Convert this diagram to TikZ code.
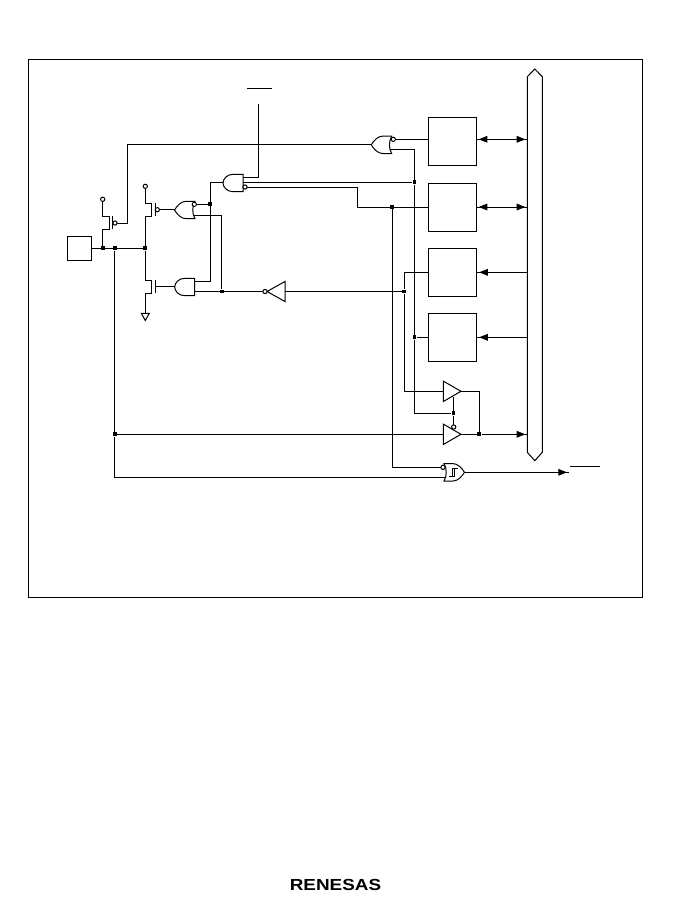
\documentclass[tikz,border=0pt]{standalone}
\usepackage{fontspec}
\setmainfont{Liberation Sans}
\usetikzlibrary{arrows.meta}
\tikzset{
  box/.style={draw,minimum width=36.2pt,minimum height=36.2pt,inner sep=0pt},
  pad/.style={draw,minimum width=18.2pt,minimum height=18.2pt,inner sep=0pt},
  junction/.style={rectangle,fill=black,inner sep=0pt,minimum size=2.8pt},
  bubble/.style={circle,draw,fill=white,inner sep=0pt,minimum size=3.2pt},
  biarrow/.style={postaction={draw,shorten <=1.5pt,shorten >=1.5pt,{Triangle[length=6.5pt,width=5pt]}-{Triangle[length=6.5pt,width=5pt]}}},
  uniarrow/.style={postaction={draw,shorten >=1.5pt,-{Triangle[length=6.5pt,width=5pt]}}},
  andgate/.pic={\draw[fill=white] (0,-8.7) -- (-10,-8.7) .. controls (-16,-8.7) and (-20,-4) .. (-20,0)
     .. controls (-20,4) and (-16,8.7) .. (-10,8.7) -- (0,8.7) -- cycle;},
  orgate/.pic={\draw[fill=white] (0,-8.7) -- (-9,-8.7) .. controls (-14,-8.7) and (-18,-4) .. (-20.5,0)
     .. controls (-18,4) and (-14,8.7) .. (-9,8.7) -- (0,8.7) .. controls (-3,4) and (-3,-4) .. (0,-8.7) -- cycle;},
  leftbuf/.pic={\draw[fill=white] (0,0) -- (18,-10) -- (18,10) -- cycle;},
  rightbuf/.pic={\draw[fill=white] (0,-10.2) -- (17.7,0) -- (0,10.2) -- cycle;},
}
\begin{document}
\begin{tikzpicture}[x=0.75pt,y=-0.75pt,line width=0.75pt]
\useasboundingbox (0,0) rectangle (679,901);
  % frame
  \draw (28,59) rectangle (642,597);
  % blocks
  \node[pad] (pad) at (79.5,248.3) {};
  \foreach \place/\name in {{(452.5,141.3)/boxa},
                            {(452.5,207.3)/boxb},
                            {(452.5,272.3)/boxc},
                            {(452.5,337.3)/boxd}}
    \node[box] (\name) at \place {};
  % bus
  \draw (527.3,76.7) -- (534.8,69) -- (542.3,76.7) -- (542.3,452.3) -- (534.8,460.7) -- (527.3,452.3) -- cycle;
  % junctions
  \foreach \place/\name in {{(102.7,248.3)/ja},
                            {(114.7,248.3)/jb},
                            {(145.3,248.3)/jc},
                            {(210.3,204.3)/jd},
                            {(221.7,291.5)/je},
                            {(414.5,182.3)/jf},
                            {(392.3,207)/jg},
                            {(404.3,291.5)/jh},
                            {(414.5,337.3)/ji},
                            {(453.5,413.3)/jk},
                            {(479.3,434.3)/jl},
                            {(114.7,434.3)/jm}}
    \node[junction] (\name) at \place {};
  % end points
  \foreach \place/\name in {{(527.3,139.3)/busa},
                            {(527.3,207)/busb},
                            {(527.3,272.3)/busc},
                            {(527.3,337.3)/busd},
                            {(527.3,434.3)/buse},
                            {(428.3,139.3)/boxain},
                            {(476.7,139.3)/boxaout},
                            {(428.3,207)/boxbin},
                            {(476.7,207)/boxbout},
                            {(258.3,104)/clk},
                            {(569,472.3)/outp},
                            {(145.3,313.3)/gnd}}
    \node[coordinate] (\name) at \place {};
  % gates
  \path (391.7,144.8) pic {orgate};
  \path (243,183) pic {andgate};
  \path (195,210) pic {orgate};
  \path (194.7,287) pic {andgate};
  \path (267,291.5) pic {leftbuf};
  \path (443.3,391.3) pic {rightbuf};
  \path (443.3,434.3) pic {rightbuf};
  \path (444,472.3) pic[xscale=-1] {orgate};
  % hysteresis
  \draw (449,476.5) -- (454,476.5) -- (454,468.5) -- (457.5,468.5) (452,476.5) -- (452,468.5) -- (454,468.5);
  % transistors
  \draw (102.7,199.3) -- (102.7,216) -- (109.3,216) -- (109.3,229.3) -- (102.7,229.3) -- (ja);
  \draw (112.3,216) -- (112.3,229.3);
  \draw (145.3,186.3) -- (145.3,203) -- (151.7,203) -- (151.7,216.3) -- (145.3,216.3) -- (jc);
  \draw (155.3,203) -- (155.3,216.3);
  \draw (jc) -- (145.3,280.3) -- (151.7,280.3) -- (151.7,293.3) -- (145.3,293.3) -- (gnd);
  \draw (155.3,280.3) -- (155.3,293.3);
  \draw (141.3,313.3) -- (149.3,313.3) -- (145.3,320.5) -- cycle;
  % wires
  \draw (pad.east) -- (jc);
  \draw (117,223) -- (127.7,223) -- (127.7,144.3) -- (372,144.3);
  \draw (159.5,209.7) -- (174.5,209.7);
  \draw (155.3,286.3) -- (175,286.3);
  \draw (196,204.3) -- (jd);
  \draw (193,215.3) -- (221.7,215.3) -- (je);
  \draw (194.7,281.7) -- (210.3,281.7) -- (210.3,182.7) -- (223.3,182.7);
  \draw (194.7,291.5) -- (266,291.5);
  \draw (285,291.5) -- (jh);
  \draw (243,177.7) -- (258.3,177.7) -- (clk);
  \draw (243,182.3) -- (jf);
  \draw (245,187) -- (357.3,187) -- (357.3,207) -- (boxbin);
  \draw (395.5,139.3) -- (boxain);
  \draw (389.5,149.3) -- (414.5,149.3) -- (jf) -- (ji) -- (414.5,413.3) -- (jk);
  \draw (ji) -- (boxd.west);
  \draw (boxc.west) -- (404.3,272.3) -- (jh) -- (404.3,391.3) -- (443.3,391.3);
  \draw (jg) -- (392.3,467.3) -- (441,467.3);
  \draw (jb) -- (jm) -- (114.7,477.7) -- (446,477.7);
  \draw (jm) -- (443.3,434.3);
  \draw (461,391.3) -- (479.3,391.3) -- (jl);
  \draw (461,434.3) -- (jl);
  \draw (453.5,397) -- (jk) -- (453.5,425);
  % bus links
  \draw[biarrow] (boxaout) -- (busa);
  \draw[biarrow] (boxbout) -- (busb);
  \draw[uniarrow] (busc) -- (boxc.east);
  \draw[uniarrow] (busd) -- (boxd.east);
  \draw[uniarrow] (jl) -- (buse);
  \draw[uniarrow] (465,472.3) -- (outp);
  % inversion bubbles
  \foreach \place/\name in {{(115,223)/ba},
                            {(157.3,209.7)/bb},
                            {(194.3,204.3)/bc},
                            {(245,187)/bd},
                            {(393.3,139.3)/be},
                            {(265,291.5)/bf},
                            {(453.7,427)/bg},
                            {(443,467.3)/bh},
                            {(102.7,199.3)/bi},
                            {(145.3,186.3)/bk}}
    \node[bubble] (\name) at \place {};
  % overbars
  \draw (247.3,88.3) -- (271.7,88.3);
  \draw (570,466.3) -- (600,466.3);
  % logo
  \node[inner sep=0pt,font=\bfseries\fontsize{12}{12}\selectfont] (logo) at (335.5,885) {\scalebox{1.18}[1]{RENESAS}};
\end{tikzpicture}
\end{document}
